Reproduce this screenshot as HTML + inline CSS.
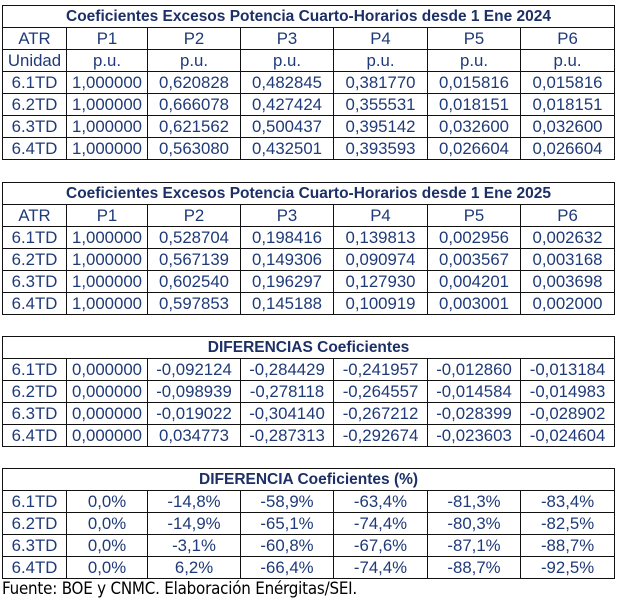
<!DOCTYPE html>
<html><head><meta charset="utf-8"><style>
body{margin:0;width:617px;height:600px;background:#fff;position:relative;overflow:hidden;font-family:"Liberation Sans",Arial,sans-serif;}
table{position:absolute;left:2px;border-collapse:collapse;table-layout:fixed;width:612px;color:#1f3a78;}
td{border:1.3px solid #111;padding:0;text-align:center;font-size:16.8px;line-height:18px;white-space:nowrap;overflow:hidden;}
td.t{font-weight:bold;font-size:15.5px;color:#1c2f66;}
tr{height:22px;}
.f{position:absolute;left:2px;top:578px;font-size:16.8px;color:#000;font-family:"DejaVu Sans Condensed","Liberation Sans",sans-serif;letter-spacing:-0.2px;}
</style></head><body>
<table style="top:5px"><colgroup><col style="width:64px"><col style="width:81px"><col style="width:93px"><col style="width:93px"><col style="width:94px"><col style="width:93px"><col style="width:94px"></colgroup>
<tr><td colspan="7" class="t">Coeficientes Excesos Potencia Cuarto-Horarios desde 1 Ene 2024</td></tr>
<tr><td>ATR</td><td>P1</td><td>P2</td><td>P3</td><td>P4</td><td>P5</td><td>P6</td></tr>
<tr><td>Unidad</td><td>p.u.</td><td>p.u.</td><td>p.u.</td><td>p.u.</td><td>p.u.</td><td>p.u.</td></tr>
<tr><td>6.1TD</td><td>1,000000</td><td>0,620828</td><td>0,482845</td><td>0,381770</td><td>0,015816</td><td>0,015816</td></tr>
<tr><td>6.2TD</td><td>1,000000</td><td>0,666078</td><td>0,427424</td><td>0,355531</td><td>0,018151</td><td>0,018151</td></tr>
<tr><td>6.3TD</td><td>1,000000</td><td>0,621562</td><td>0,500437</td><td>0,395142</td><td>0,032600</td><td>0,032600</td></tr>
<tr><td>6.4TD</td><td>1,000000</td><td>0,563080</td><td>0,432501</td><td>0,393593</td><td>0,026604</td><td>0,026604</td></tr>
</table>
<table style="top:182px"><colgroup><col style="width:64px"><col style="width:81px"><col style="width:93px"><col style="width:93px"><col style="width:94px"><col style="width:93px"><col style="width:94px"></colgroup>
<tr><td colspan="7" class="t">Coeficientes Excesos Potencia Cuarto-Horarios desde 1 Ene 2025</td></tr>
<tr><td>ATR</td><td>P1</td><td>P2</td><td>P3</td><td>P4</td><td>P5</td><td>P6</td></tr>
<tr><td>6.1TD</td><td>1,000000</td><td>0,528704</td><td>0,198416</td><td>0,139813</td><td>0,002956</td><td>0,002632</td></tr>
<tr><td>6.2TD</td><td>1,000000</td><td>0,567139</td><td>0,149306</td><td>0,090974</td><td>0,003567</td><td>0,003168</td></tr>
<tr><td>6.3TD</td><td>1,000000</td><td>0,602540</td><td>0,196297</td><td>0,127930</td><td>0,004201</td><td>0,003698</td></tr>
<tr><td>6.4TD</td><td>1,000000</td><td>0,597853</td><td>0,145188</td><td>0,100919</td><td>0,003001</td><td>0,002000</td></tr>
</table>
<table style="top:336px"><colgroup><col style="width:64px"><col style="width:81px"><col style="width:93px"><col style="width:93px"><col style="width:94px"><col style="width:93px"><col style="width:94px"></colgroup>
<tr><td colspan="7" class="t">DIFERENCIAS Coeficientes</td></tr>
<tr><td>6.1TD</td><td>0,000000</td><td>-0,092124</td><td>-0,284429</td><td>-0,241957</td><td>-0,012860</td><td>-0,013184</td></tr>
<tr><td>6.2TD</td><td>0,000000</td><td>-0,098939</td><td>-0,278118</td><td>-0,264557</td><td>-0,014584</td><td>-0,014983</td></tr>
<tr><td>6.3TD</td><td>0,000000</td><td>-0,019022</td><td>-0,304140</td><td>-0,267212</td><td>-0,028399</td><td>-0,028902</td></tr>
<tr><td>6.4TD</td><td>0,000000</td><td>0,034773</td><td>-0,287313</td><td>-0,292674</td><td>-0,023603</td><td>-0,024604</td></tr>
</table>
<table style="top:468px"><colgroup><col style="width:64px"><col style="width:81px"><col style="width:93px"><col style="width:93px"><col style="width:94px"><col style="width:93px"><col style="width:94px"></colgroup>
<tr><td colspan="7" class="t">DIFERENCIA Coeficientes (%)</td></tr>
<tr><td>6.1TD</td><td>0,0%</td><td>-14,8%</td><td>-58,9%</td><td>-63,4%</td><td>-81,3%</td><td>-83,4%</td></tr>
<tr><td>6.2TD</td><td>0,0%</td><td>-14,9%</td><td>-65,1%</td><td>-74,4%</td><td>-80,3%</td><td>-82,5%</td></tr>
<tr><td>6.3TD</td><td>0,0%</td><td>-3,1%</td><td>-60,8%</td><td>-67,6%</td><td>-87,1%</td><td>-88,7%</td></tr>
<tr><td>6.4TD</td><td>0,0%</td><td>6,2%</td><td>-66,4%</td><td>-74,4%</td><td>-88,7%</td><td>-92,5%</td></tr>
</table>
<div class="f">Fuente: BOE y CNMC. Elaboración Enérgitas/SEI.</div>
</body></html>
